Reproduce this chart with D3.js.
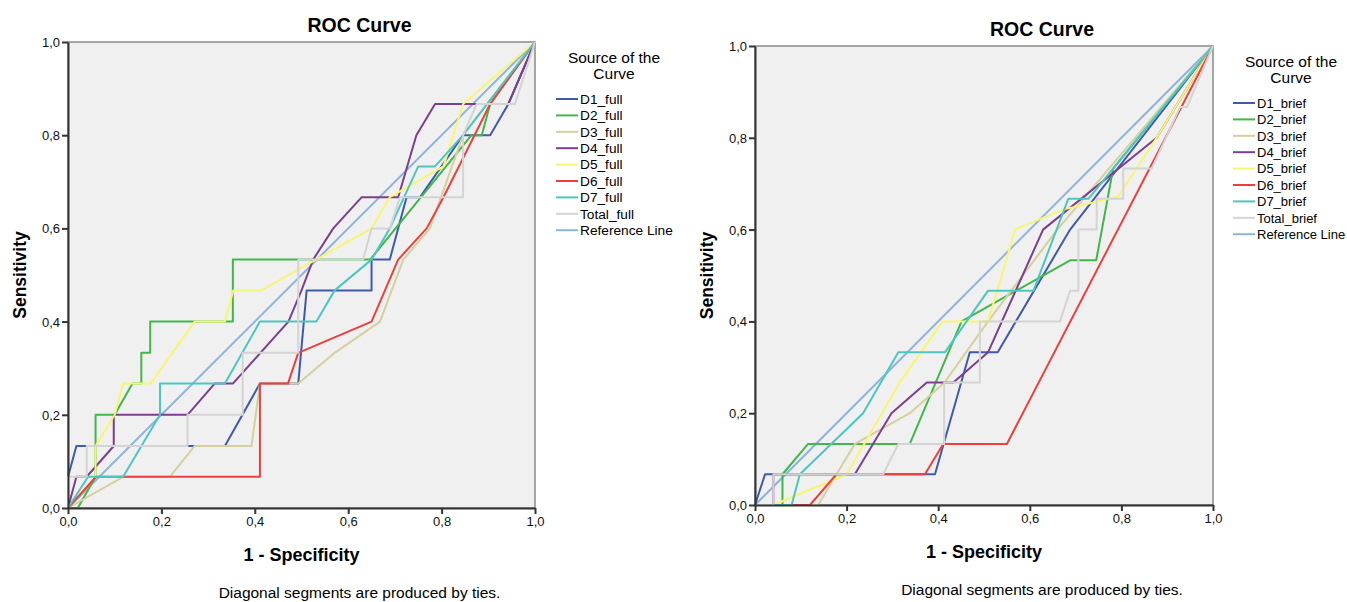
<!DOCTYPE html>
<html>
<head>
  <meta charset="utf-8">
  <title>ROC Curves</title>
  <style>
    body { margin: 0; background: #fff; font-family: "Liberation Sans", Arial, sans-serif; }
  </style>
  <script src="https://d3js.org/d3.v7.min.js"></script>
</head>
<body>
  <div id="chart"></div>
  <script>
    // tick values shared by both panels
    const ticks = [0, 0.2, 0.4, 0.6, 0.8, 1.0];

    // left panel: [1 - specificity, sensitivity]
    const d1Full = [[0,0],[0,0.067],[0.018,0.133],[0.336,0.133],[0.411,0.267],[0.493,0.267],[0.511,0.467],[0.65,0.467],[0.65,0.533],[0.689,0.533],[0.725,0.667],[0.754,0.667],[0.846,0.8],[0.904,0.8],[0.943,0.867],[1,1]];
    const d2Full = [[0,0],[0.021,0],[0.059,0.067],[0.059,0.2],[0.1,0.2],[0.138,0.267],[0.157,0.267],[0.157,0.333],[0.176,0.333],[0.176,0.4],[0.353,0.4],[0.353,0.533],[0.647,0.533],[0.864,0.8],[0.886,0.8],[0.904,0.867],[1,1]];
    const d3Full = [[0,0],[0.118,0.067],[0.218,0.067],[0.271,0.133],[0.393,0.133],[0.411,0.267],[0.493,0.267],[0.571,0.333],[0.668,0.4],[0.718,0.533],[0.775,0.6],[0.846,0.8],[1,1]];
    const d4Full = [[0,0],[0.018,0.067],[0.04,0.067],[0.098,0.133],[0.098,0.2],[0.256,0.2],[0.314,0.267],[0.353,0.267],[0.472,0.4],[0.5,0.467],[0.525,0.533],[0.568,0.6],[0.629,0.667],[0.707,0.667],[0.746,0.8],[0.786,0.867],[0.943,0.867],[1,1]];
    const d5Full = [[0,0],[0.059,0.067],[0.059,0.133],[0.1,0.2],[0.118,0.267],[0.177,0.267],[0.271,0.4],[0.336,0.4],[0.354,0.467],[0.414,0.467],[0.65,0.6],[0.689,0.667],[0.804,0.733],[0.846,0.867],[1,1]];
    const d6Full = [[0,0],[0.06,0.067],[0.411,0.067],[0.411,0.267],[0.471,0.267],[0.493,0.333],[0.65,0.4],[0.707,0.533],[0.768,0.6],[0.804,0.667],[0.904,0.867],[1,1]];
    const d7Full = [[0,0],[0.043,0.067],[0.118,0.067],[0.197,0.2],[0.197,0.267],[0.336,0.267],[0.411,0.4],[0.532,0.4],[0.571,0.467],[0.65,0.533],[0.689,0.6],[0.75,0.733],[0.786,0.733],[0.846,0.8],[1,1]];
    const totalFull = [[0,0],[0,0.067],[0.04,0.067],[0.04,0.133],[0.256,0.133],[0.256,0.2],[0.374,0.2],[0.374,0.333],[0.493,0.333],[0.493,0.533],[0.632,0.533],[0.65,0.6],[0.689,0.6],[0.711,0.667],[0.846,0.667],[0.846,0.8],[0.875,0.867],[0.957,0.867],[1,1]];

    // right panel
    const d1Brief = [[0,0],[0.022,0.067],[0.393,0.067],[0.469,0.333],[0.53,0.333],[0.688,0.6],[1,1]];
    const d2Brief = [[0,0],[0.06,0],[0.06,0.067],[0.116,0.133],[0.338,0.133],[0.451,0.4],[0.688,0.533],[0.745,0.533],[0.782,0.733],[1,1]];
    const d3Brief = [[0,0],[0.138,0],[0.178,0.067],[0.218,0.133],[0.338,0.2],[0.414,0.267],[0.509,0.4],[0.66,0.6],[1,1]];
    const d4Brief = [[0,0],[0.04,0],[0.04,0.067],[0.218,0.067],[0.298,0.2],[0.375,0.267],[0.433,0.267],[0.509,0.333],[0.629,0.6],[0.877,0.8],[1,1]];
    const d5Brief = [[0,0],[0.04,0],[0.2,0.067],[0.316,0.267],[0.41,0.4],[0.509,0.4],[0.568,0.6],[0.67,0.643],[0.793,0.672],[0.877,0.8],[1,1]];
    const d6Brief = [[0,0],[0.12,0],[0.178,0.067],[0.371,0.067],[0.411,0.133],[0.55,0.133],[1,1]];
    const d7Brief = [[0,0],[0.08,0],[0.098,0.067],[0.236,0.2],[0.313,0.333],[0.415,0.333],[0.509,0.467],[0.608,0.467],[0.684,0.667],[0.728,0.667],[1,1]];
    const totalBrief = [[0,0],[0.04,0],[0.04,0.067],[0.28,0.067],[0.313,0.133],[0.413,0.133],[0.413,0.267],[0.491,0.267],[0.491,0.4],[0.666,0.4],[0.688,0.467],[0.706,0.467],[0.706,0.6],[0.746,0.6],[0.746,0.667],[0.804,0.667],[0.804,0.733],[0.866,0.733],[0.928,0.867],[0.943,0.867],[1,1]];

    const reference = [[0,0],[1,1]];

    const colors = ["#3f5aad", "#40b74b", "#d5d09c", "#7b3f8e", "#f8f570", "#ee3f3f", "#4cc6c1", "#d4d4d4", "#8db4da"];
    const fullNames = ["D1_full", "D2_full", "D3_full", "D4_full", "D5_full", "D6_full", "D7_full", "Total_full", "Reference Line"];
    const briefNames = ["D1_brief", "D2_brief", "D3_brief", "D4_brief", "D5_brief", "D6_brief", "D7_brief", "Total_brief", "Reference Line"];

    const svg = d3.select("#chart").append("svg")
      .attr("width", 1347)
      .attr("height", 602)
      .style("font-family", "'Liberation Sans', Arial, sans-serif");

    const fmt = v => d3.format(".1f")(v).replace(".", ",");

    function drawPanel(p) {
      const x = d3.scaleLinear().domain([0, 1]).range([p.x0, p.x1]);
      const y = d3.scaleLinear().domain([0, 1]).range([p.y0, p.y1]);
      const g = svg.append("g");

      g.append("rect")
        .attr("x", p.x0).attr("y", p.y1)
        .attr("width", p.x1 - p.x0).attr("height", p.y0 - p.y1)
        .style("fill", "#f0f0f0")
        .style("stroke", "#8a8a8a")
        .style("stroke-width", 1.5);

      const line = d3.line().x(d => x(d[0])).y(d => y(d[1]));

      // reference line under the curves
      const order = [8, 0, 1, 2, 3, 4, 5, 6, 7];
      order.forEach(i => {
        g.append("path")
          .datum(p.series[i])
          .attr("fill", "none")
          .attr("stroke", colors[i])
          .attr("stroke-width", 2)
          .attr("stroke-linejoin", "round")
          .attr("d", line);
      });

      const xAxis = g.append("g")
        .attr("transform", `translate(0,${p.y0})`)
        .call(d3.axisBottom(x).tickValues(ticks).tickFormat(fmt).tickSize(6).tickSizeOuter(0));
      const yAxis = g.append("g")
        .attr("transform", `translate(${p.x0},0)`)
        .call(d3.axisLeft(y).tickValues(ticks).tickFormat(fmt).tickSize(6).tickSizeOuter(0));
      [xAxis, yAxis].forEach(a => {
        a.select(".domain").attr("stroke", "#333").attr("stroke-width", 2);
        a.selectAll(".tick line").attr("stroke", "#333").attr("stroke-width", 2);
        a.selectAll("text").style("font-size", "13px").style("fill", "#111")
          .style("font-family", "'Liberation Sans', Arial, sans-serif");
      });
      yAxis.selectAll("text").attr("x", -8).attr("dy", "0.35em");
      xAxis.selectAll("text").attr("y", 9);

      const cx = (p.x0 + p.x1) / 2;

      g.append("text")
        .attr("x", cx + 58).attr("y", p.y1 - 10)
        .attr("text-anchor", "middle")
        .style("font-size", "19.5px").style("font-weight", "bold")
        .text("ROC Curve");

      g.append("text")
        .attr("x", cx).attr("y", p.y0 + 53)
        .attr("text-anchor", "middle")
        .style("font-size", "18px").style("font-weight", "bold")
        .text("1 - Specificity");

      g.append("text")
        .attr("transform", `translate(${p.x0 - 42},${(p.y0 + p.y1) / 2}) rotate(-90)`)
        .attr("text-anchor", "middle")
        .style("font-size", "17.5px").style("font-weight", "bold")
        .text("Sensitivity");

      g.append("text")
        .attr("x", cx + 58).attr("y", p.y0 + 90)
        .attr("text-anchor", "middle")
        .style("font-size", "15.5px")
        .text("Diagonal segments are produced by ties.");

      // legend
      const lg = g.append("g").attr("transform", `translate(${p.lx},${p.ly})`);
      lg.append("text").attr("x", 58).attr("y", 0)
        .attr("text-anchor", "middle").style("font-size", "15.5px")
        .text("Source of the");
      lg.append("text").attr("x", 58).attr("y", 16)
        .attr("text-anchor", "middle").style("font-size", "15.5px")
        .text("Curve");
      p.names.forEach((n, i) => {
        const yy = 36 + i * 16.4;
        lg.append("line")
          .attr("x1", 0).attr("x2", 22)
          .attr("y1", yy).attr("y2", yy)
          .attr("stroke", colors[i]).attr("stroke-width", 2);
        lg.append("text")
          .attr("x", 24).attr("y", yy + 4.8)
          .style("font-size", p.lfs)
          .text(n);
      });
    }

    drawPanel({
      x0: 68, x1: 535, y0: 508, y1: 42,
      lx: 556, ly: 63, lfs: "13.7px",
      names: fullNames,
      series: [d1Full, d2Full, d3Full, d4Full, d5Full, d6Full, d7Full, totalFull, reference]
    });

    drawPanel({
      x0: 755, x1: 1213, y0: 505, y1: 46,
      lx: 1233, ly: 67, lfs: "13px",
      names: briefNames,
      series: [d1Brief, d2Brief, d3Brief, d4Brief, d5Brief, d6Brief, d7Brief, totalBrief, reference]
    });
  </script>
</body>
</html>
